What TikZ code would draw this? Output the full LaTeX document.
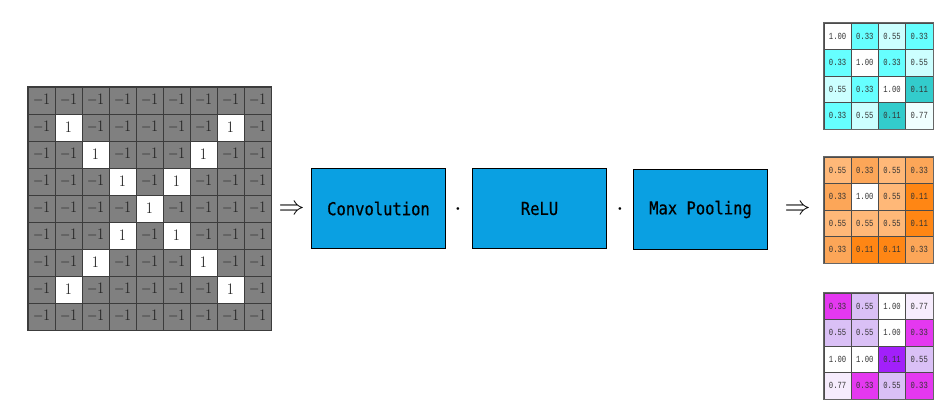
\documentclass[tikz,border=0pt]{standalone}
\usepackage{fontspec}
\newfontfamily\boxfont[FakeBold=0.6]{DejaVu Sans Mono}
\newfontfamily\numfont{Liberation Mono}
\definecolor{gridgray}{RGB}{128,128,128}
\definecolor{gridline}{RGB}{60,60,60}
\definecolor{boxblue}{RGB}{10,160,226}
\definecolor{cyw}{RGB}{255,255,255}
\definecolor{cya}{RGB}{102,255,255}
\definecolor{cyb}{RGB}{204,255,255}
\definecolor{cyc}{RGB}{51,204,204}
\definecolor{cyd}{RGB}{240,255,255}
\definecolor{orw}{RGB}{255,255,255}
\definecolor{ora}{RGB}{252,166,88}
\definecolor{orb}{RGB}{255,184,120}
\definecolor{orc}{RGB}{255,134,20}
\definecolor{puw}{RGB}{255,255,255}
\definecolor{pua}{RGB}{228,56,240}
\definecolor{pub}{RGB}{218,192,246}
\definecolor{puc}{RGB}{162,32,250}
\definecolor{pud}{RGB}{246,236,253}
\newcommand{\gnum}[1]{\scalebox{1.33}[1.6]{$#1$}}
\newcommand{\boxtxt}[1]{\scalebox{1}[1.15]{#1}}
\newcommand{\mnum}[1]{\scalebox{0.85}[1.1]{#1}}
\tikzset{
  gcell/.style={draw=gridline, line width=0.5pt, minimum width=27, minimum height=27,
    inner sep=0pt, text=black!85},
  mcell/.style={draw=black!70, line width=0.5pt, minimum width=27.2, minimum height=26.5,
    inner sep=0pt, font=\numfont\fontsize{8.5}{9}\selectfont, text=black!80},
  procbox/.style={draw=black, line width=1.3pt, fill=boxblue, minimum width=134,
    minimum height=80, inner sep=0pt, font=\boxfont\fontsize{15.5}{16}\selectfont},
  symb/.style={inner sep=0pt},
  dotsym/.style={inner sep=0pt}
}
\begin{document}
\begin{tikzpicture}[x=1pt,y=-1pt]
\useasboundingbox (0,0) rectangle (951,418);
% left grid
\foreach \i in {0,...,8}{
  \foreach \j in {0,...,8}{
    \pgfmathtruncatemacro\isx{((\i==\j) || (\i+\j==8)) && (\i>0) && (\i<8) ? 1 : 0}
    \ifnum\isx=1
      \node[gcell, fill=white] (g\i\j) at ({41.5+27*\j},{100.5+27*\i}) {\gnum{1}};
    \else
      \node[gcell, fill=gridgray] (g\i\j) at ({41.5+27*\j},{100.5+27*\i}) {\gnum{-1}};
    \fi
  }
}
\draw[gridline, line width=0.9pt] (g00.north west) rectangle (g88.south east);
% symbols and boxes
\node[symb] (ar1) at (291.5,210) {\scalebox{2.6}{$\Rightarrow$}};
\node[procbox] (conv) at (378.5,208.5) {\boxtxt{Convolution}};
\node[dotsym] (d1) at (458,210) {\scalebox{2.6}{$\cdot$}};
\node[procbox] (relu) at (539.5,208.5) {\boxtxt{ReLU}};
\node[dotsym] (d2) at (620,210) {\scalebox{2.6}{$\cdot$}};
\node[procbox] (pool) at (700.5,209.5) {\boxtxt{Max Pooling}};
\node[symb] (ar2) at (797.5,210) {\scalebox{2.6}{$\Rightarrow$}};
% top matrix
\foreach \r/\row in {0/{1.00/w,0.33/a,0.55/b,0.33/a},1/{0.33/a,1.00/w,0.33/a,0.55/b},2/{0.55/b,0.33/a,1.00/w,0.11/c},3/{0.33/a,0.55/b,0.11/c,0.77/d}}{
  \foreach \v/\k [count=\c from 0] in \row {
    \node[mcell, fill=cy\k] (ma\r\c) at ({837.6+27.2*\c},{36.3+26.5*\r}) {\mnum{\v}};
  }
}
\draw[black!60, line width=0.9pt] (ma00.north west) rectangle (ma33.south east);
% middle matrix
\foreach \r/\row in {0/{0.55/b,0.33/a,0.55/b,0.33/a},1/{0.33/a,1.00/w,0.55/b,0.11/c},2/{0.55/b,0.55/b,0.55/b,0.11/c},3/{0.33/a,0.11/c,0.11/c,0.33/a}}{
  \foreach \v/\k [count=\c from 0] in \row {
    \node[mcell, fill=or\k] (mb\r\c) at ({837.6+27.2*\c},{170.3+26.5*\r}) {\mnum{\v}};
  }
}
\draw[black!60, line width=0.9pt] (mb00.north west) rectangle (mb33.south east);
% bottom matrix
\foreach \r/\row in {0/{0.33/a,0.55/b,1.00/w,0.77/d},1/{0.55/b,0.55/b,1.00/w,0.33/a},2/{1.00/w,1.00/w,0.11/c,0.55/b},3/{0.77/d,0.33/a,0.55/b,0.33/a}}{
  \foreach \v/\k [count=\c from 0] in \row {
    \node[mcell, fill=pu\k] (mc\r\c) at ({837.6+27.2*\c},{306.3+26.5*\r}) {\mnum{\v}};
  }
}
\draw[black!60, line width=0.9pt] (mc00.north west) rectangle (mc33.south east);
\end{tikzpicture}
\end{document}
